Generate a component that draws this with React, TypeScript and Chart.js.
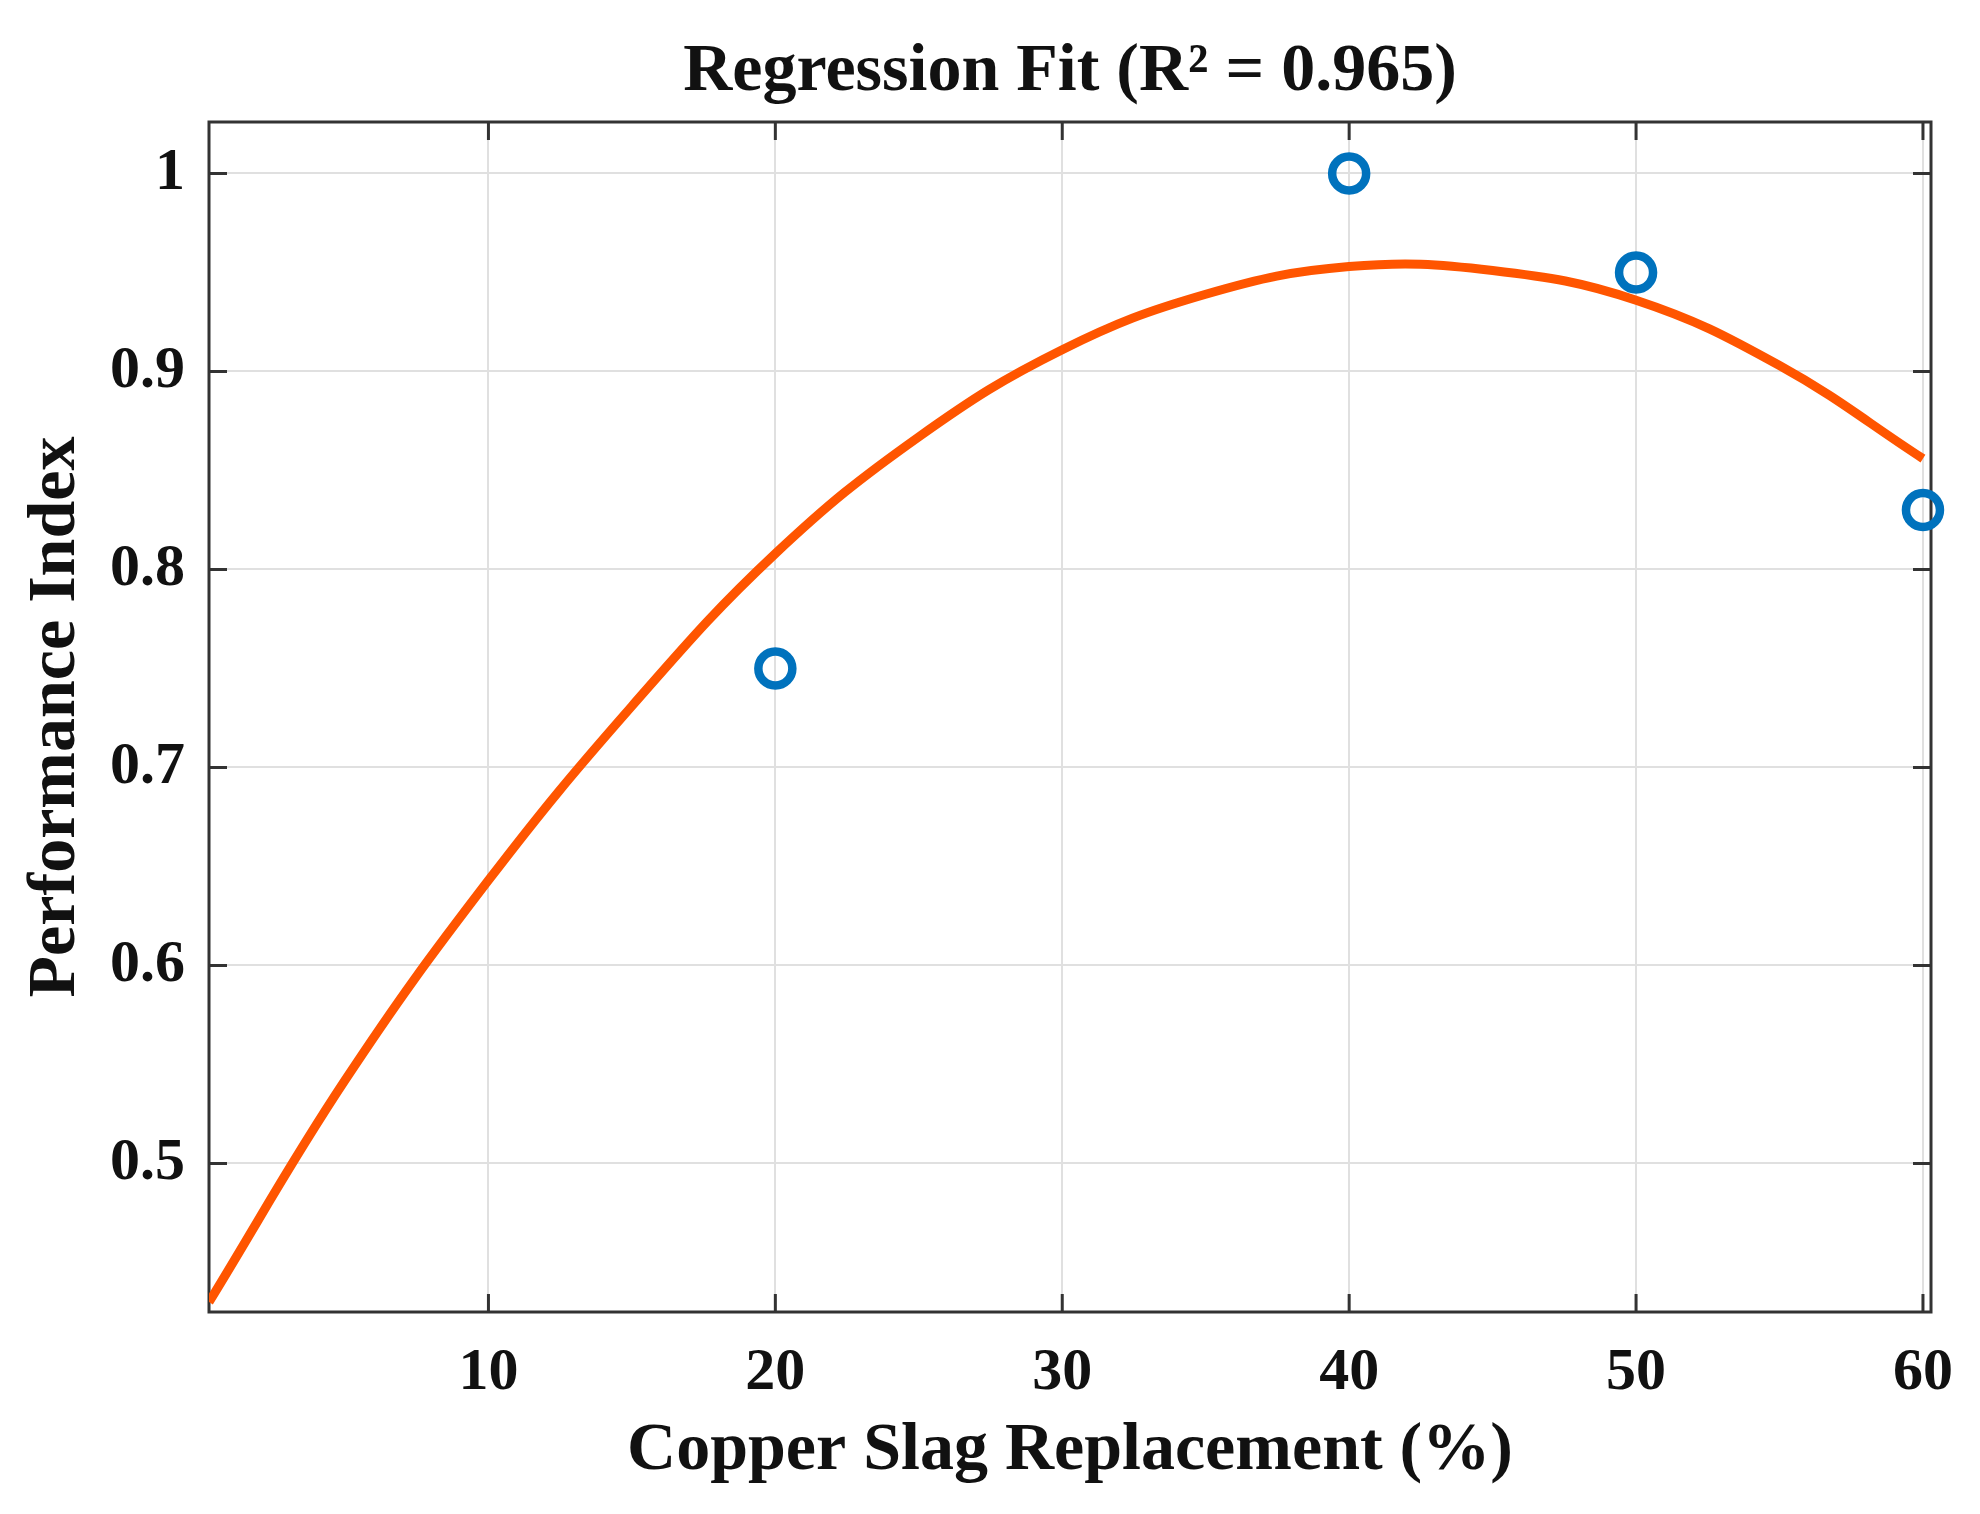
import { useEffect, useRef } from "react";
import { Chart, registerables } from "chart.js";

Chart.register(...registerables);

// measured points
const replacement = [20, 40, 50, 60];
const performance = [0.75, 1.0, 0.95, 0.83];

// fitted curve
const fitX = [0.26, 5, 10, 15, 20, 25, 30, 35, 40, 45, 50, 55, 60];
const fitY = [0.43, 0.542, 0.643, 0.731, 0.808, 0.867, 0.911, 0.939, 0.953, 0.951, 0.936, 0.903, 0.856];

const xTicks = [10, 20, 30, 40, 50, 60];
const yTicks = [0.5, 0.6, 0.7, 0.8, 0.9, 1];

const FONT = "'Liberation Serif', 'Times New Roman', serif";
const TEXT = "#111111";
const AXIS = "#333333";
const GRID = "#e0e0e0";

// box on + inward ticks like MATLAB
const framePlugin = {
  id: "frame",
  beforeDatasetsDraw(chart: any) {
    const { ctx, chartArea: a, scales } = chart;
    const len = 18;
    ctx.save();
    ctx.strokeStyle = AXIS;
    ctx.lineWidth = 3;
    ctx.beginPath();
    scales.x.ticks.forEach((t: any) => {
      const px = scales.x.getPixelForValue(t.value);
      ctx.moveTo(px, a.bottom);
      ctx.lineTo(px, a.bottom - len);
      ctx.moveTo(px, a.top);
      ctx.lineTo(px, a.top + len);
    });
    scales.y.ticks.forEach((t: any) => {
      const py = scales.y.getPixelForValue(t.value);
      ctx.moveTo(a.left, py);
      ctx.lineTo(a.left + len, py);
      ctx.moveTo(a.right, py);
      ctx.lineTo(a.right - len, py);
    });
    ctx.stroke();
    ctx.strokeRect(a.left, a.top, a.right - a.left, a.bottom - a.top);
    ctx.restore();
  },
};

export default function App() {
  const canvasRef = useRef<HTMLCanvasElement>(null);

  useEffect(() => {
    const ctx = canvasRef.current;
    if (!ctx) return;

    const chart = new Chart(ctx, {
      type: "scatter",
      data: {
        datasets: [
          {
            type: "scatter",
            label: "Data",
            data: replacement.map((x, i) => ({ x, y: performance[i] })),
            pointStyle: "circle",
            pointRadius: 17,
            pointBorderWidth: 8.5,
            borderColor: "#0072BD",
            backgroundColor: "rgba(0,0,0,0)",
            clip: false as any,
          },
          {
            type: "line",
            label: "Fit",
            data: fitX.map((x, i) => ({ x, y: fitY[i] })),
            borderColor: "#FF5500",
            borderWidth: 9,
            pointRadius: 0,
            tension: 0.4,
            fill: false,
          },
        ],
      },
      options: {
        animation: false,
        responsive: true,
        maintainAspectRatio: false,
        layout: { padding: { left: 0, right: 49, top: 0, bottom: 0 } },
        plugins: {
          legend: { display: false },
          tooltip: { enabled: false },
          title: {
            display: true,
            text: "Regression Fit (R\u00B2 = 0.965)",
            fullSize: false,
            color: TEXT,
            font: { family: FONT, size: 68, weight: "bold", lineHeight: 1.2 },
            padding: { top: 32, bottom: 8.4 },
          },
        },
        scales: {
          x: {
            type: "linear",
            min: 0.26,
            max: 60.28,
            afterBuildTicks: (s: any) => {
              s.ticks = xTicks.map((v) => ({ value: v }));
            },
            afterFit: (s: any) => {
              s.height = 202;
              s.paddingLeft = 0;
              s.paddingRight = 0;
            },
            ticks: {
              color: TEXT,
              font: { family: FONT, size: 60, weight: "bold", lineHeight: 1.2 },
              padding: 25,
              maxRotation: 0,
              autoSkip: false,
              callback: (v: any) => String(v),
            },
            grid: { color: GRID, lineWidth: 2, drawTicks: false },
            border: { display: false },
            title: {
              display: true,
              text: "Copper Slag Replacement (%)",
              color: TEXT,
              font: { family: FONT, size: 68, weight: "bold", lineHeight: 1.2 },
              padding: { top: 0, bottom: 22 },
            },
          },
          y: {
            type: "linear",
            min: 0.425,
            max: 1.026,
            afterBuildTicks: (s: any) => {
              s.ticks = yTicks.map((v) => ({ value: v }));
            },
            afterFit: (s: any) => {
              s.width = 209;
              s.paddingTop = 0;
              s.paddingBottom = 0;
            },
            ticks: {
              color: TEXT,
              font: { family: FONT, size: 60, weight: "bold", lineHeight: 1.2 },
              padding: 24,
              autoSkip: false,
              callback: (v: any) => String(v),
            },
            grid: { color: GRID, lineWidth: 2, drawTicks: false },
            border: { display: false },
            title: {
              display: true,
              text: "Performance Index",
              color: TEXT,
              font: { family: FONT, size: 68, weight: "bold", lineHeight: 1.2 },
              padding: { top: 16, bottom: 0 },
            },
          },
        },
      },
      plugins: [framePlugin],
    });

    return () => {
      chart.destroy();
    };
  }, []);

  return (
    <div style={{ position: "absolute", left: 0, top: 0, width: 1980, height: 1514, background: "#fff" }}>
      <canvas ref={canvasRef}></canvas>
    </div>
  );
}
